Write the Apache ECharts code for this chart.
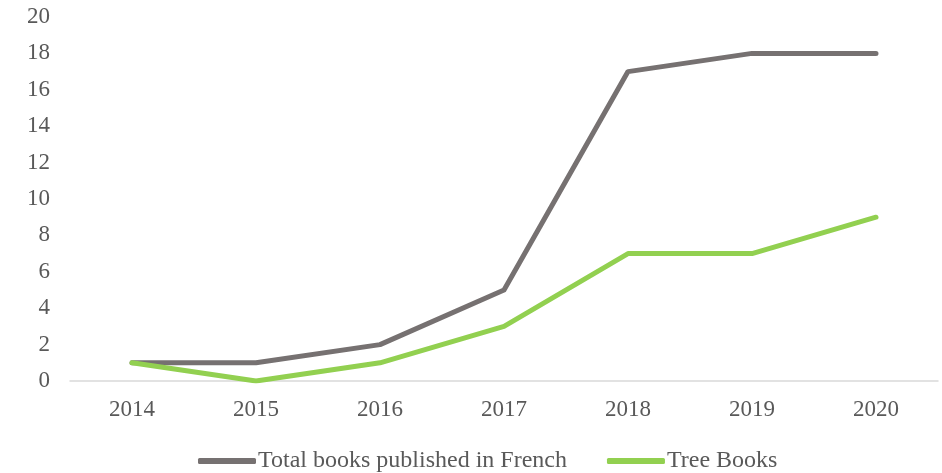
<!DOCTYPE html>
<html><head><meta charset="utf-8">
<script src="https://cdn.jsdelivr.net/npm/echarts@6/dist/echarts.min.js"></script>
<style>html,body{margin:0;padding:0;background:#fff}#c{width:942px;height:473px}</style>
</head><body><div id="c"></div>
<script>
const categories = ['2014','2015','2016','2017','2018','2019','2020'];
const totalFrench = [1,1,2,5,17,18,18];
const treeBooks = [1,0,1,3,7,7,9];
const seriesNames = ['Total books published in French','Tree Books'];
const font = '"Liberation Serif","Times New Roman",serif';
const chart = echarts.init(document.getElementById('c'));
chart.setOption({
  animation:false,
  textStyle:{fontFamily:font},
  grid:{left:70,right:4,top:17,bottom:92},
  legend:{top:444,left:193,itemWidth:58,itemHeight:6,itemGap:40,padding:5,
    icon:'roundRect',
    textStyle:{fontFamily:font,fontSize:24,color:'#595959',padding:[0,0,0,-3]},
    data:seriesNames},
  xAxis:{type:'category',data:categories,boundaryGap:true,
    axisLine:{lineStyle:{color:'#d9d9d9',width:1.5}},axisTick:{show:false},
    axisLabel:{fontFamily:font,fontSize:23,color:'#595959',margin:17}},
  yAxis:{type:'value',min:0,max:20,interval:2,
    axisLine:{show:false},axisTick:{show:false},splitLine:{show:false},
    axisLabel:{fontFamily:font,fontSize:23,color:'#595959',margin:20}},
  series:[
    {name:seriesNames[0],type:'line',data:totalFrench,symbol:'none',
     lineStyle:{color:'#767171',width:5,cap:'round',join:'round'},itemStyle:{color:'#767171'}},
    {name:seriesNames[1],type:'line',data:treeBooks,symbol:'none',
     lineStyle:{color:'#92D050',width:5,cap:'round',join:'round'},itemStyle:{color:'#92D050'}}
  ]
});
</script></body></html>
